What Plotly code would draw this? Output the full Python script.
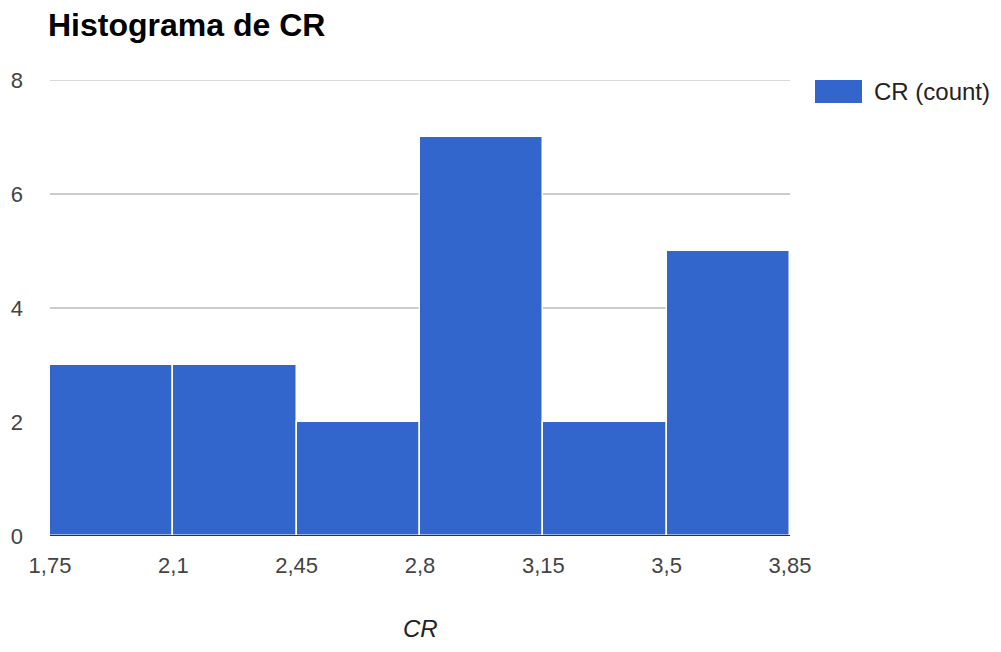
import plotly.graph_objects as go

bin_starts = [1.75, 2.1, 2.45, 2.8, 3.15, 3.5]
bin_width = 0.35
counts = [3, 3, 2, 7, 2, 5]
x_ticks = [1.75, 2.1, 2.45, 2.8, 3.15, 3.5, 3.85]
x_tick_labels = ["1,75", "2,1", "2,45", "2,8", "3,15", "3,5", "3,85"]
y_ticks = [0, 2, 4, 6, 8]
series_name = "CR (count)"
bar_color = "#3366cc"

centers = [s + bin_width / 2 for s in bin_starts]

fig = go.Figure()
fig.add_trace(go.Bar(
    x=centers, y=counts, width=[bin_width] * len(counts),
    marker=dict(color=bar_color, line=dict(color="white", width=1.5)),
    name=series_name, showlegend=False,
))

fig.update_layout(
    width=1001, height=652,
    margin=dict(l=42, r=219, t=72, b=124, autoexpand=False),
    plot_bgcolor="white", paper_bgcolor="white",
    font=dict(family="Liberation Sans, Arial, sans-serif", size=22, color="#444"),
    title=dict(text="<b>Histograma de CR</b>", x=40 / 1001, xanchor="left",
               xref="container", yref="container", y=1 - 17 / 652, yanchor="middle",
               font=dict(size=32, color="#000")),
    bargap=0,
    xaxis=dict(range=[1.75, 3.85], tickvals=x_ticks, ticktext=x_tick_labels,
               showgrid=False, zeroline=False, showline=False, automargin=False,
               ticks="", ticklabelstandoff=14,
               tickfont=dict(size=22, color="#444")),
    yaxis=dict(range=[0, 8], tickvals=y_ticks, showgrid=True, gridcolor="#cccccc",
               gridwidth=1.5, zeroline=False, showline=False, ticks="", automargin=False,
               ticklabelstandoff=26, tickfont=dict(size=22, color="#444")),
    shapes=[
        dict(type="line", xref="paper", yref="y", x0=0, x1=1, y0=8, y1=8,
             line=dict(color="#cccccc", width=1.5), layer="below"),
        dict(type="line", xref="paper", yref="y", x0=0, x1=1, y0=0, y1=0,
             line=dict(color="#333333", width=2)),
        dict(type="rect", xref="paper", yref="paper",
             x0=(815 - 50) / 740, x1=(862 - 50) / 740,
             y0=(536 - 103) / 456, y1=(536 - 80) / 456,
             fillcolor=bar_color, line=dict(color=bar_color, width=0)),
    ],
    annotations=[
        dict(text=series_name, xref="paper", yref="paper",
             x=(872 - 50) / 740, y=(536 - 91) / 456, xanchor="left", yanchor="middle",
             showarrow=False, font=dict(size=24, color="#222")),
        dict(text="<i>CR</i>", xref="paper", yref="paper",
             x=(420 - 50) / 740, y=-(628 - 536) / 456, xanchor="center", yanchor="middle",
             showarrow=False, font=dict(size=24, color="#222")),
    ],
)

fig.write_html("out.html")
